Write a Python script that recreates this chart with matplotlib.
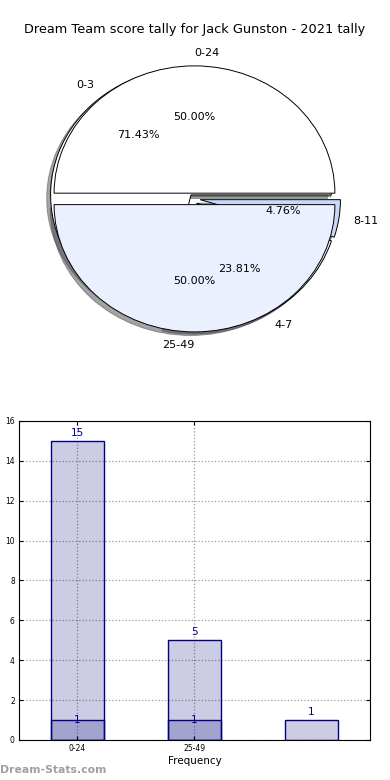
import matplotlib
matplotlib.use('Agg')
from matplotlib import pyplot as plt

title = 'Dream Team score tally for Jack Gunston - 2021 tally'

# outer split (0-24 / 25-49) and inner split (0-3 / 4-7 / 8-11)
half_labels = ['0-24', '25-49']
half_values = [1, 1]
quarter_labels = ['0-3', '4-7', '8-11']
quarter_values = [15, 5, 1]

# bar chart
bar_ticks = ['0-24', '25-49']
light_values = [15, 5, 1]
dark_values = [1, 1, 0]

pie_colors = ['white', '#eaf0fd', '#c8d8fb']

fig = plt.figure(figsize=(3.9, 7.8), dpi=100)

# pie part
ax1 = fig.add_axes([0.0487, 0.541, 0.9, 0.408])
wp = dict(edgecolor='black', linewidth=0.7)
ax1.pie(quarter_values, labels=quarter_labels, colors=pie_colors,
        explode=[0.04] * 3, autopct='%.2f%%', shadow=True,
        wedgeprops=wp, textprops=dict(fontsize=8))
wedges, texts, autotexts = ax1.pie(half_values, labels=half_labels,
                                   colors=pie_colors[:2],
                                   explode=[0.045] * 2, autopct='%.2f%%',
                                   shadow=True, wedgeprops=wp,
                                   textprops=dict(fontsize=8))
# old matplotlib put the bottom label to the left of centre
texts[0].set_ha('left')
texts[1].set_ha('right')
ax1.set_aspect('auto')
ax1.set_xlim(-1.25, 1.25)
ax1.set_ylim(-1.25, 1.25)
fig.text(0.5, 1 - 30 / 780, title, ha='center', va='center', fontsize=9.3)

# bar part
ax2 = fig.add_axes([0.0487, 0.0513, 0.9, 0.409])
x = list(range(len(light_values)))
ax2.bar(x, light_values, width=0.45, color='navy', alpha=0.2, zorder=2)
ax2.bar(x, light_values, width=0.45, fill=False, edgecolor='navy',
        linewidth=1, zorder=3)
xd = [i for i, v in enumerate(dark_values) if v > 0]
dv = [v for v in dark_values if v > 0]
ax2.bar(xd, dv, width=0.45, color='navy', alpha=0.2, zorder=2)
ax2.bar(xd, dv, width=0.45, fill=False, edgecolor='navy', linewidth=1,
        zorder=3)
for i, v in enumerate(light_values):
    ax2.text(i, v + 0.15, str(v), ha='center', va='bottom', color='navy',
             fontsize=7.5)
for i, v in zip(xd, dv):
    ax2.text(i, v, str(v), ha='center', va='center', color='navy',
             fontsize=7.5)
ax2.set_xlim(-0.5, 2.5)
ax2.set_ylim(0, 16)
ax2.set_yticks(range(0, 17, 2))
ax2.set_xticks([0, 1])
ax2.set_xticklabels(bar_ticks)
ax2.tick_params(labelsize=5.5, direction='in', top=True, right=True,
                length=3, pad=3)
ax2.grid(True, linestyle=':', color='#999999', linewidth=0.9, zorder=0)
ax2.set_axisbelow(True)
ax2.set_xlabel('Frequency', fontsize=7.5, labelpad=2)

fig.text(0.0, 1 - 770 / 780, 'Dream-Stats.com', ha='left', va='center',
         fontsize=7.8, fontweight='bold', color='#a0a0a0')

plt.savefig('out.png', dpi=100)
